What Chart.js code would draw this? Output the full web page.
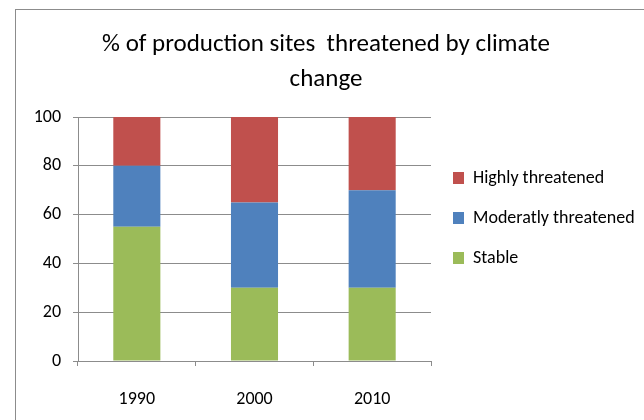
<!DOCTYPE html>
<html>
<head>
<meta charset="utf-8">
<script src="https://cdn.jsdelivr.net/npm/chart.js@4"></script>
<style>
  html, body { margin: 0; padding: 0; background: #fff; }
  #wrap { position: relative; width: 644px; height: 420px; }
  #frame {
    position: absolute; left: 15px; top: 9px; right: 0; bottom: 0;
    border-left: 1px solid #8c8c8c; border-top: 1px solid #8c8c8c;
    pointer-events: none;
  }
</style>
</head>
<body>
<div id="wrap">
  <canvas id="chart" width="644" height="420"></canvas>
  <div id="frame"></div>
</div>
<script>
const years = ['1990', '2000', '2010'];
const stable = [55, 30, 30];
const moderately = [25, 35, 40];
const highly = [20, 35, 30];
const yTicks = [0, 20, 40, 60, 80, 100];

const fontFamily = 'Carlito, Calibri, Lato, sans-serif';
const gridColor = '#8c8c8c';

const ctx = document.getElementById('chart').getContext('2d');
new Chart(ctx, {
  type: 'bar',
  data: {
    labels: years,
    datasets: [
      { label: 'Stable', data: stable, backgroundColor: '#9bbb59' },
      { label: 'Moderatly threatened', data: moderately, backgroundColor: '#4f81bd' },
      { label: 'Highly threatened', data: highly, backgroundColor: '#c0504d' }
    ]
  },
  options: {
    responsive: false,
    animation: false,
    layout: { padding: { top: 25, bottom: 9, left: 8, right: 0 } },
    datasets: { bar: { categoryPercentage: 0.4, barPercentage: 1.0 } },
    plugins: {
      title: {
        display: true,
        text: ['% of production sites  threatened by climate', 'change'],
        color: '#000',
        font: { family: fontFamily, size: 25, weight: 'normal', lineHeight: 1.4 },
        padding: { top: 2, bottom: 20 }
      },
      legend: {
        position: 'right',
        reverse: true,
        maxWidth: 213,
        labels: {
          color: '#000',
          boxWidth: 11,
          boxHeight: 12,
          padding: 22,
          font: { family: fontFamily, size: 18 }
        }
      },
      tooltip: { enabled: false }
    },
    scales: {
      x: {
        stacked: true,
        afterFit: axis => { axis.height = 50; },
        grid: { display: true, drawOnChartArea: false, color: gridColor, tickLength: 5, offset: true },
        border: { color: gridColor },
        ticks: { color: '#000', padding: 23, maxRotation: 0, minRotation: 0, font: { family: fontFamily, size: 18 } }
      },
      y: {
        stacked: true,
        min: 0,
        max: 100,
        afterBuildTicks: axis => { axis.ticks = yTicks.map(v => ({ value: v })); },
        afterFit: axis => { axis.width = 70; },
        grid: { color: gridColor, tickLength: 5 },
        border: { color: gridColor },
        ticks: { color: '#000', padding: 12, font: { family: fontFamily, size: 18 } }
      }
    }
  }
});
</script>
</body>
</html>
